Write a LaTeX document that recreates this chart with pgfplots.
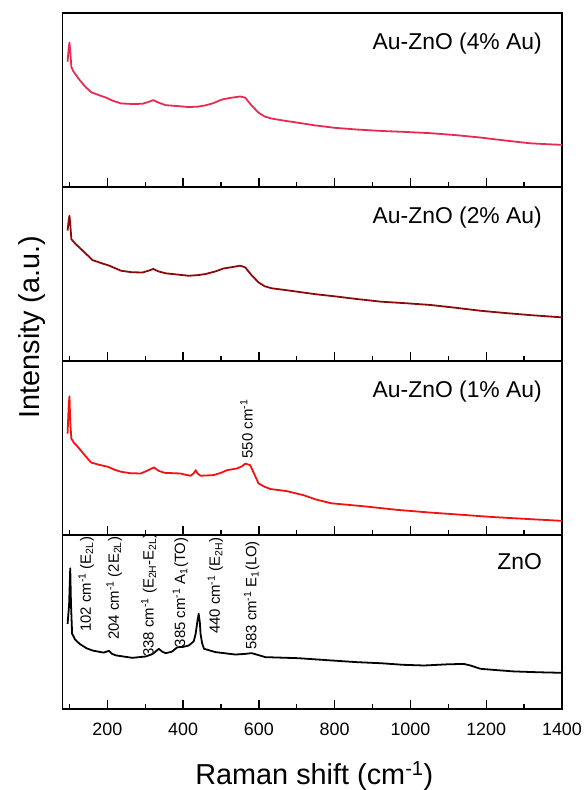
\documentclass[border=0pt]{standalone}
\usepackage{fontspec}
\setmainfont{Liberation Sans}
\usepackage{pgfplots}
\pgfplotsset{compat=1.18}
\usepgfplotslibrary{groupplots}
\definecolor{au4}{HTML}{E62A52}
\definecolor{au2}{HTML}{8B0A0C}
\definecolor{au1}{HTML}{F21212}
\tikzset{
  lab/.style={anchor=east, inner sep=0pt, font=\fontsize{23}{26}\selectfont},
  ann/.style={rotate=90, anchor=west, inner sep=0pt, font=\fontsize{15}{17}\selectfont},
}

\begin{document}
\begin{tikzpicture}
\begin{groupplot}[
  group style={group size=1 by 4, vertical sep=0pt, xticklabels at=edge bottom},
  width=502pt, height=175pt, scale only axis,
  xmin=82, xmax=1400, ymin=0, ymax=1,
  xtick={200,400,...,1400}, minor xtick={100,300,...,1300},
  ytick=\empty, xtick pos=left,
  tick align=inside,
  major tick length=9pt, minor tick length=5pt,
  tick style={black, line width=1.4pt},
  axis line style={line width=1.6pt},
  tick label style={font=\fontsize{18}{20}\selectfont},
  xticklabel style={yshift=-10pt},
  /pgf/number format/assume math mode=true,
  /pgf/number format/1000 sep={},
  clip=false,
  every axis plot/.style={line width=1.8pt, line join=round},
]
% 4% Au
\nextgroupplot
\addplot[au4] coordinates {
(95,0.72) (98,0.80) (100,0.83) (102,0.78) (105,0.69) (110,0.665) (126,0.617) (140,0.58)
(157,0.545) (175,0.53) (197,0.513) (215,0.495) (236,0.48) (265,0.477) (293,0.478)
(310,0.49) (321,0.499) (335,0.485) (354,0.47) (385,0.465) (415,0.459) (440,0.462)
(459,0.469) (480,0.482) (503,0.503) (525,0.512) (551,0.52) (564,0.513) (580,0.47)
(599,0.427) (615,0.405) (634,0.393) (670,0.38) (713,0.366) (748,0.354) (800,0.34)
(860,0.33) (923,0.322) (990,0.316) (1054,0.309) (1120,0.298) (1185,0.284) (1250,0.267)
(1316,0.251) (1360,0.246) (1400,0.242)
};
\node[lab] at (rel axis cs:0.96,0.823) {Au-ZnO (4\% Au)};

% 2% Au
\nextgroupplot
\addplot[au2] coordinates {
(95,0.75) (98,0.81) (100,0.835) (102,0.79) (105,0.70) (115,0.675) (135,0.634) (161,0.58)
(185,0.562) (205,0.548) (236,0.519) (265,0.51) (293,0.509) (310,0.52) (321,0.529)
(335,0.515) (354,0.504) (385,0.497) (415,0.49) (440,0.494) (459,0.5) (485,0.515)
(507,0.532) (530,0.54) (551,0.548) (564,0.538) (580,0.495) (599,0.452) (615,0.43)
(634,0.418) (670,0.408) (713,0.395) (750,0.384) (800,0.372) (860,0.356) (923,0.341)
(990,0.332) (1054,0.322) (1120,0.306) (1185,0.289) (1250,0.276) (1316,0.264) (1400,0.251)
};
\node[lab] at (rel axis cs:0.96,0.823) {Au-ZnO (2\% Au)};
\node[rotate=90, font=\fontsize{29}{32}\selectfont] at (rel axis cs:-0.062,0.195) {Intensity (a.u.)};

% 1% Au
\nextgroupplot
\addplot[au1] coordinates {
(95,0.583) (98,0.75) (100,0.798) (102,0.65) (105,0.554) (112,0.53) (122,0.507) (140,0.46)
(157,0.417) (180,0.403) (201,0.393) (220,0.375) (236,0.364) (260,0.356) (288,0.354)
(305,0.37) (323,0.389) (335,0.37) (350,0.358) (393,0.354) (410,0.345) (420,0.341)
(428,0.355) (433,0.373) (438,0.355) (446,0.341) (481,0.345) (500,0.358) (516,0.373)
(542,0.383) (555,0.395) (564,0.411) (577,0.402) (588,0.35) (599,0.297) (615,0.278)
(630,0.265) (673,0.253) (717,0.23) (750,0.205) (791,0.183) (880,0.165) (966,0.145)
(1050,0.13) (1141,0.116) (1210,0.105) (1273,0.097) (1340,0.089) (1400,0.082)
};
\node[lab] at (rel axis cs:0.96,0.823) {Au-ZnO (1\% Au)};
\node[ann] at (axis cs:567,0.44) {550 cm\textsuperscript{-1}};

% ZnO
\nextgroupplot[xlabel={Raman shift (cm\textsuperscript{-1})},
  xlabel style={font=\fontsize{29}{32}\selectfont, inner sep=0pt, at={(axis description cs:0.504,-0.43)}, anchor=base}]
\addplot[black] coordinates {
(95,0.49) (99,0.6) (102,0.81) (104,0.6) (107,0.433) (115,0.40) (127,0.375) (145,0.35)
(161,0.337) (190,0.325) (204,0.335) (212,0.318) (223,0.309) (266,0.295) (302,0.303)
(320,0.318) (336,0.347) (345,0.33) (354,0.322) (370,0.33) (385,0.356) (400,0.358)
(415,0.366) (428,0.39) (433,0.433) (438,0.51) (441,0.548) (444,0.5) (446,0.433)
(450,0.38) (455,0.347) (485,0.328) (538,0.314) (565,0.318) (581,0.322) (600,0.31)
(617,0.299) (704,0.293) (791,0.28) (860,0.27) (923,0.264) (980,0.255) (1036,0.251)
(1100,0.258) (1141,0.26) (1160,0.25) (1185,0.232) (1230,0.224) (1273,0.217)
(1340,0.212) (1400,0.209)
};
\node[lab] at (rel axis cs:0.96,0.85) {ZnO};
\node[ann] at (axis cs:144,0.443) {102 cm\textsuperscript{-1} (E\textsubscript{2L})};
\node[ann] at (axis cs:218,0.397) {204 cm\textsuperscript{-1} (2E\textsubscript{2L})};
\node[ann] at (axis cs:310,0.30) {338 cm\textsuperscript{-1} (E\textsubscript{2H}-E\textsubscript{2L})};
\node[ann] at (axis cs:393,0.356) {385 cm\textsuperscript{-1} A\textsubscript{1}(TO)};
\node[ann] at (axis cs:485,0.431) {440 cm\textsuperscript{-1} (E\textsubscript{2H})};
\node[ann] at (axis cs:581,0.339) {583 cm\textsuperscript{-1} E\textsubscript{1}(LO)};
\end{groupplot}
\path ([shift={(-63pt,13pt)}]group c1r1.north west) rectangle ([shift={(22pt,-81pt)}]group c1r4.south east);
\end{tikzpicture}
\end{document}
